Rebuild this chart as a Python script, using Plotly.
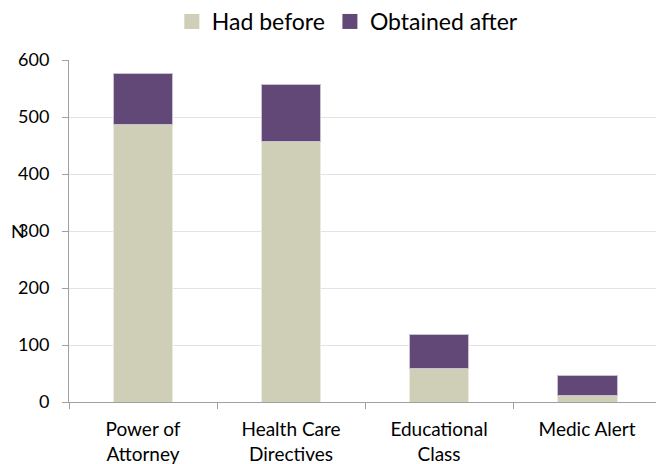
import plotly.graph_objects as go

categories = ["Power of<br>Attorney", "Health Care<br>Directives", "Educational<br>Class", "Medic Alert"]
had_before = [487, 457, 58, 12]
obtained_after = [89, 100, 61, 35]
y_ticks = [0, 100, 200, 300, 400, 500, 600]
series_names = ["Had before", "Obtained after"]
series_colors = ["#CFCEB6", "#614876"]

font = "Lato, 'Open Sans', sans-serif"

fig = go.Figure()
fig.add_trace(go.Bar(x=categories, y=had_before, name=series_names[0], showlegend=False,
                     marker=dict(color=series_colors[0], line=dict(color="#ECEBE0", width=1))))
fig.add_trace(go.Bar(x=categories, y=obtained_after, name=series_names[1], showlegend=False,
                     marker=dict(color=series_colors[1], line=dict(color="#C9C0D0", width=1))))
# legend-only entries with larger square swatches
for nm, col in zip(series_names, series_colors):
    fig.add_trace(go.Scatter(x=[None], y=[None], mode="markers", name=nm,
                             marker=dict(symbol="square", size=15, color=col)))

fig.update_layout(
    barmode="stack",
    bargap=0.595,
    width=656, height=464,
    margin=dict(l=69, r=0, t=60, b=62, autoexpand=False),
    plot_bgcolor="white", paper_bgcolor="white",
    font=dict(family=font, size=18, color="#000000"),
    legend=dict(orientation="h", x=0.475, xanchor="center", y=1.0, yanchor="top",
                yref="container", font=dict(size=23), traceorder="normal",
                itemwidth=30, tracegroupgap=0),
    showlegend=True,
)
fig.update_xaxes(range=[-0.5, 3.466], showline=True, linecolor="#A0A0A0", linewidth=1,
                 automargin=False, ticks="outside", tickson="boundaries", ticklen=6,
                 tickcolor="#A0A0A0", tickfont=dict(size=19), ticklabelstandoff=10)
fig.update_yaxes(range=[0, 600], tickvals=y_ticks, showline=True, linecolor="#A0A0A0",
                 linewidth=1, ticks="outside", ticklen=6, tickcolor="#A0A0A0", automargin=False,
                 showgrid=True, gridcolor="#E3E3E3", gridwidth=1, zeroline=False,
                 tickfont=dict(size=18), ticklabelstandoff=9)
fig.add_annotation(text="N", xref="paper", yref="y", x=0, y=300, xshift=-60,
                   xanchor="left", yanchor="middle", showarrow=False,
                   font=dict(size=18))

fig.write_html("out.html", config={"displayModeBar": False},
               post_script="document.body.style.margin='0';")
